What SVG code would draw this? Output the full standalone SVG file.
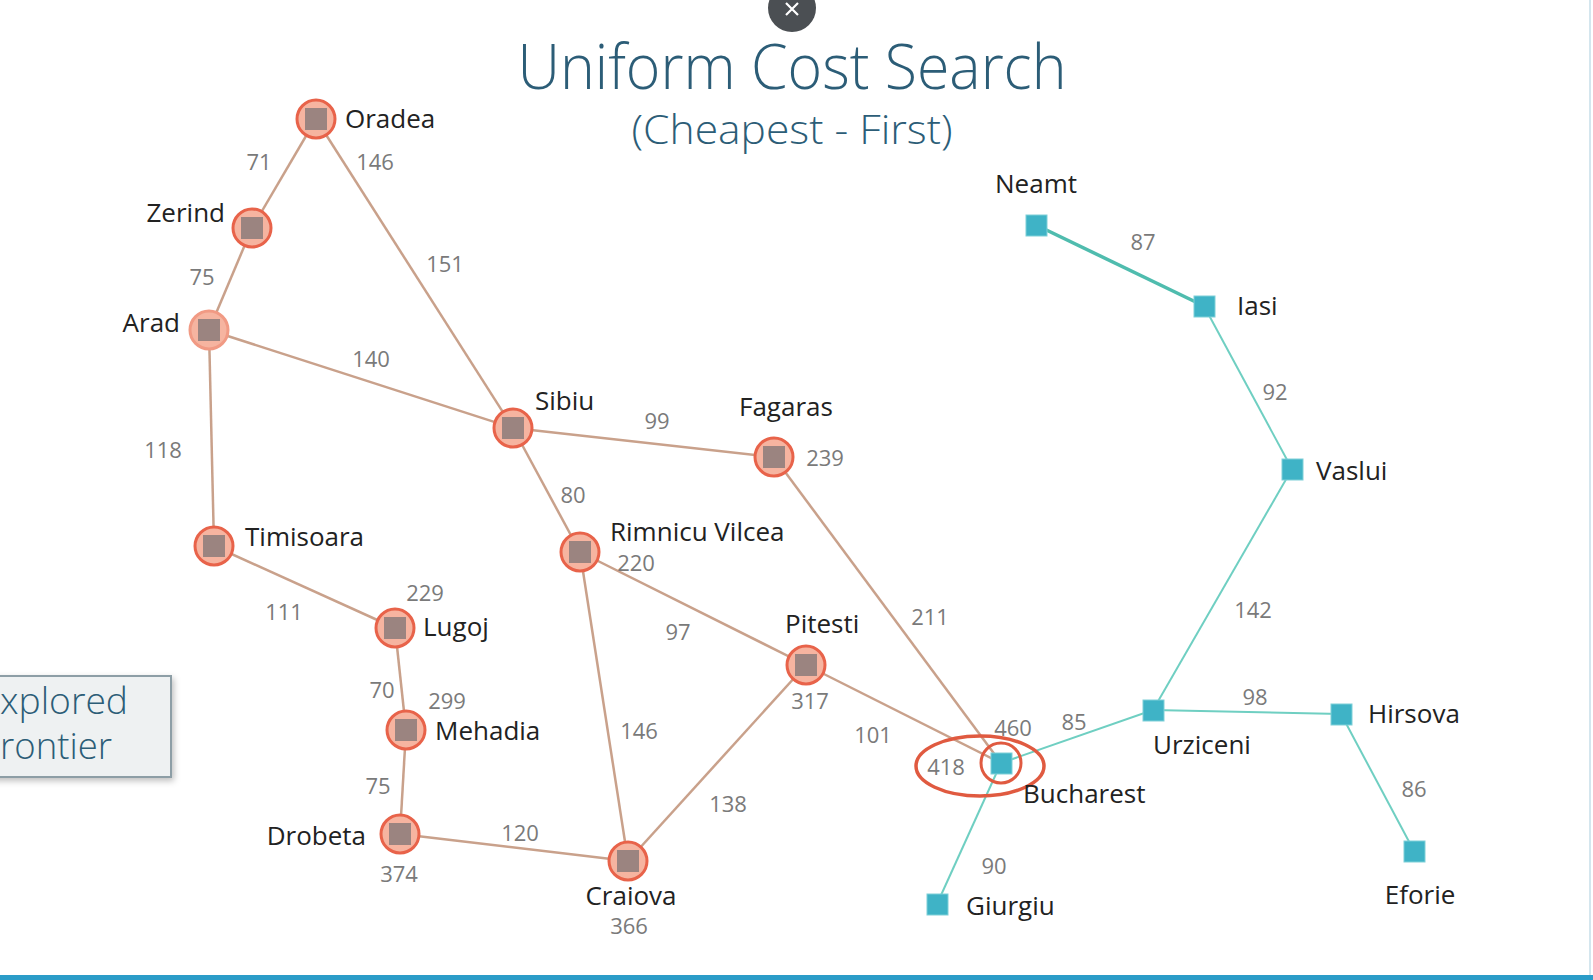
<svg xmlns="http://www.w3.org/2000/svg" width="1593" height="980" viewBox="0 0 1593 980">
<defs>
<style>
.name{font-family:"Open Sans","DejaVu Sans",sans-serif;font-size:26px;fill:#222222}
.num{font-family:"Open Sans","DejaVu Sans",sans-serif;font-size:22px;fill:#7a7a7a}
.e1{stroke:#c9a18b;stroke-width:2.5;fill:none}
.e2{stroke:#6fcfc2;stroke-width:2;fill:none}
.ring{fill:#f6b4a0;stroke:#e8634a;stroke-width:3}
.sq{fill:#9b8480}
.tq{fill:#3fb3c6;stroke:#7fd0d8;stroke-width:1}
.title{font-family:"Open Sans","DejaVu Sans",sans-serif;font-weight:300;fill:#2c5d77}
</style>
<filter id="sh" x="-20%" y="-20%" width="150%" height="150%">
<feDropShadow dx="2" dy="3" stdDeviation="3" flood-color="#000" flood-opacity="0.25"/>
</filter>
</defs>
<rect width="1593" height="980" fill="#ffffff"/>
<line x1="1590" y1="0" x2="1590" y2="976" stroke="#d4e6ee" stroke-width="2"/>
<rect x="0" y="975" width="1593" height="5" fill="#2b9cc8"/>

<g id="close-button">
<circle cx="792" cy="8" r="24" fill="#4b4f53"/>
<path d="M786 3 L798 15 M798 3 L786 15" stroke="#ffffff" stroke-width="2.2"/>
</g>

<g id="title">
<text class="title" x="792" y="89" font-size="62" text-anchor="middle" textLength="549" lengthAdjust="spacingAndGlyphs">Uniform Cost Search</text>
<text class="title" x="792" y="144" font-size="40" text-anchor="middle" textLength="321" lengthAdjust="spacingAndGlyphs">(Cheapest - First)</text>
</g>

<g id="legend">
<rect x="-10" y="676" width="181" height="101" fill="#eef1f2" stroke="#8d9ea6" stroke-width="2" filter="url(#sh)"/>
<text class="title" x="0" y="714" font-size="36" textLength="128" lengthAdjust="spacingAndGlyphs">xplored</text>
<text class="title" x="0" y="759" font-size="36" textLength="112" lengthAdjust="spacingAndGlyphs">rontier</text>
</g>

<g id="connectors">
<line class="e1" x1="316" y1="119" x2="252" y2="228"/>
<line class="e1" x1="316" y1="119" x2="513" y2="428"/>
<line class="e1" x1="252" y1="228" x2="209" y2="330"/>
<line class="e1" x1="209" y1="330" x2="513" y2="428"/>
<line class="e1" x1="209" y1="330" x2="214" y2="546"/>
<line class="e1" x1="214" y1="546" x2="395" y2="628"/>
<line class="e1" x1="395" y1="628" x2="406" y2="730"/>
<line class="e1" x1="406" y1="730" x2="400" y2="834"/>
<line class="e1" x1="400" y1="834" x2="628" y2="861"/>
<line class="e1" x1="513" y1="428" x2="774" y2="457"/>
<line class="e1" x1="513" y1="428" x2="580" y2="552"/>
<line class="e1" x1="580" y1="552" x2="806" y2="665"/>
<line class="e1" x1="580" y1="552" x2="628" y2="861"/>
<line class="e1" x1="628" y1="861" x2="806" y2="665"/>
<line class="e1" x1="806" y1="665" x2="1001" y2="763"/>
<line class="e1" x1="774" y1="457" x2="1001" y2="763"/>
<line class="e2" x1="1001" y1="763" x2="1153" y2="710"/>
<line class="e2" x1="1001" y1="763" x2="937" y2="904"/>
<line class="e2" x1="1153" y1="710" x2="1341" y2="714"/>
<line class="e2" x1="1341" y1="714" x2="1414" y2="851"/>
<line class="e2" x1="1153" y1="710" x2="1292" y2="469"/>
<line class="e2" x1="1292" y1="469" x2="1204" y2="306"/>
<line class="e2" x1="1204" y1="306" x2="1036" y2="225" style="stroke-width:3.5;stroke:#4fbcae"/>
</g>

<g id="edge-labels">
<text class="num" x="259" y="170" text-anchor="middle">71</text>
<text class="num" x="375" y="170" text-anchor="middle">146</text>
<text class="num" x="445" y="272" text-anchor="middle">151</text>
<text class="num" x="202" y="285" text-anchor="middle">75</text>
<text class="num" x="371" y="367" text-anchor="middle">140</text>
<text class="num" x="163" y="458" text-anchor="middle">118</text>
<text class="num" x="657" y="429" text-anchor="middle">99</text>
<text class="num" x="825" y="466" text-anchor="middle">239</text>
<text class="num" x="573" y="503" text-anchor="middle">80</text>
<text class="num" x="636" y="571" text-anchor="middle">220</text>
<text class="num" x="425" y="601" text-anchor="middle">229</text>
<text class="num" x="284" y="620" text-anchor="middle">111</text>
<text class="num" x="678" y="640" text-anchor="middle">97</text>
<text class="num" x="930" y="625" text-anchor="middle">211</text>
<text class="num" x="810" y="709" text-anchor="middle">317</text>
<text class="num" x="382" y="698" text-anchor="middle">70</text>
<text class="num" x="447" y="709" text-anchor="middle">299</text>
<text class="num" x="639" y="739" text-anchor="middle">146</text>
<text class="num" x="873" y="743" text-anchor="middle">101</text>
<text class="num" x="378" y="794" text-anchor="middle">75</text>
<text class="num" x="728" y="812" text-anchor="middle">138</text>
<text class="num" x="520" y="841" text-anchor="middle">120</text>
<text class="num" x="399" y="882" text-anchor="middle">374</text>
<text class="num" x="629" y="934" text-anchor="middle">366</text>
<text class="num" x="1013" y="736" text-anchor="middle">460</text>
<text class="num" x="1074" y="730" text-anchor="middle">85</text>
<text class="num" x="946" y="775" text-anchor="middle">418</text>
<text class="num" x="1255" y="705" text-anchor="middle">98</text>
<text class="num" x="1253" y="618" text-anchor="middle">142</text>
<text class="num" x="1275" y="400" text-anchor="middle">92</text>
<text class="num" x="1143" y="250" text-anchor="middle">87</text>
<text class="num" x="994" y="874" text-anchor="middle">90</text>
<text class="num" x="1414" y="797" text-anchor="middle">86</text>
</g>

<g id="node-oradea"><circle class="ring" cx="316" cy="119" r="19"/><rect class="sq" x="305" y="108" width="22" height="22"/><text class="name" x="345" y="128">Oradea</text></g>
<g id="node-zerind"><circle class="ring" cx="252" cy="228" r="19"/><rect class="sq" x="241" y="217" width="22" height="22"/><text class="name" x="225" y="222" text-anchor="end">Zerind</text></g>
<g id="node-arad"><circle class="ring" cx="209" cy="330" r="19" style="stroke:#f19a84"/><rect class="sq" x="198" y="319" width="22" height="22"/><text class="name" x="180" y="332" text-anchor="end">Arad</text></g>
<g id="node-sibiu"><circle class="ring" cx="513" cy="428" r="19"/><rect class="sq" x="502" y="417" width="22" height="22"/><text class="name" x="535" y="410">Sibiu</text></g>
<g id="node-fagaras"><circle class="ring" cx="774" cy="457" r="19"/><rect class="sq" x="763" y="446" width="22" height="22"/><text class="name" x="739" y="416">Fagaras</text></g>
<g id="node-timisoara"><circle class="ring" cx="214" cy="546" r="19"/><rect class="sq" x="203" y="535" width="22" height="22"/><text class="name" x="245" y="546">Timisoara</text></g>
<g id="node-rimnicu-vilcea"><circle class="ring" cx="580" cy="552" r="19"/><rect class="sq" x="569" y="541" width="22" height="22"/><text class="name" x="610" y="541">Rimnicu Vilcea</text></g>
<g id="node-lugoj"><circle class="ring" cx="395" cy="628" r="19"/><rect class="sq" x="384" y="617" width="22" height="22"/><text class="name" x="423" y="636">Lugoj</text></g>
<g id="node-pitesti"><circle class="ring" cx="806" cy="665" r="19"/><rect class="sq" x="795" y="654" width="22" height="22"/><text class="name" x="785" y="633">Pitesti</text></g>
<g id="node-mehadia"><circle class="ring" cx="406" cy="730" r="19"/><rect class="sq" x="395" y="719" width="22" height="22"/><text class="name" x="435" y="740">Mehadia</text></g>
<g id="node-drobeta"><circle class="ring" cx="400" cy="834" r="19"/><rect class="sq" x="389" y="823" width="22" height="22"/><text class="name" x="366" y="845" text-anchor="end">Drobeta</text></g>
<g id="node-craiova"><circle class="ring" cx="628" cy="861" r="19"/><rect class="sq" x="617" y="850" width="22" height="22"/><text class="name" x="631" y="905" text-anchor="middle">Craiova</text></g>
<g id="node-bucharest">
<ellipse cx="980" cy="766" rx="64" ry="30" fill="none" stroke="#e05a40" stroke-width="3.5"/>
<circle cx="1001" cy="763" r="20" fill="none" stroke="#e05a40" stroke-width="3"/>
<rect class="tq" x="991" y="753" width="21" height="21"/>
<text class="name" x="1023" y="803">Bucharest</text></g>
<g id="node-giurgiu"><rect class="tq" x="927" y="894" width="21" height="21"/><text class="name" x="966" y="915">Giurgiu</text></g>
<g id="node-urziceni"><rect class="tq" x="1143" y="700" width="21" height="21"/><text class="name" x="1153" y="754">Urziceni</text></g>
<g id="node-hirsova"><rect class="tq" x="1331" y="704" width="21" height="21"/><text class="name" x="1368" y="723">Hirsova</text></g>
<g id="node-eforie"><rect class="tq" x="1404" y="841" width="21" height="21"/><text class="name" x="1420" y="904" text-anchor="middle">Eforie</text></g>
<g id="node-vaslui"><rect class="tq" x="1282" y="459" width="21" height="21"/><text class="name" x="1316" y="480">Vaslui</text></g>
<g id="node-iasi"><rect class="tq" x="1194" y="296" width="21" height="21"/><text class="name" x="1237" y="315">Iasi</text></g>
<g id="node-neamt"><rect class="tq" x="1026" y="215" width="21" height="21"/><text class="name" x="1036" y="193" text-anchor="middle">Neamt</text></g>
</svg>
